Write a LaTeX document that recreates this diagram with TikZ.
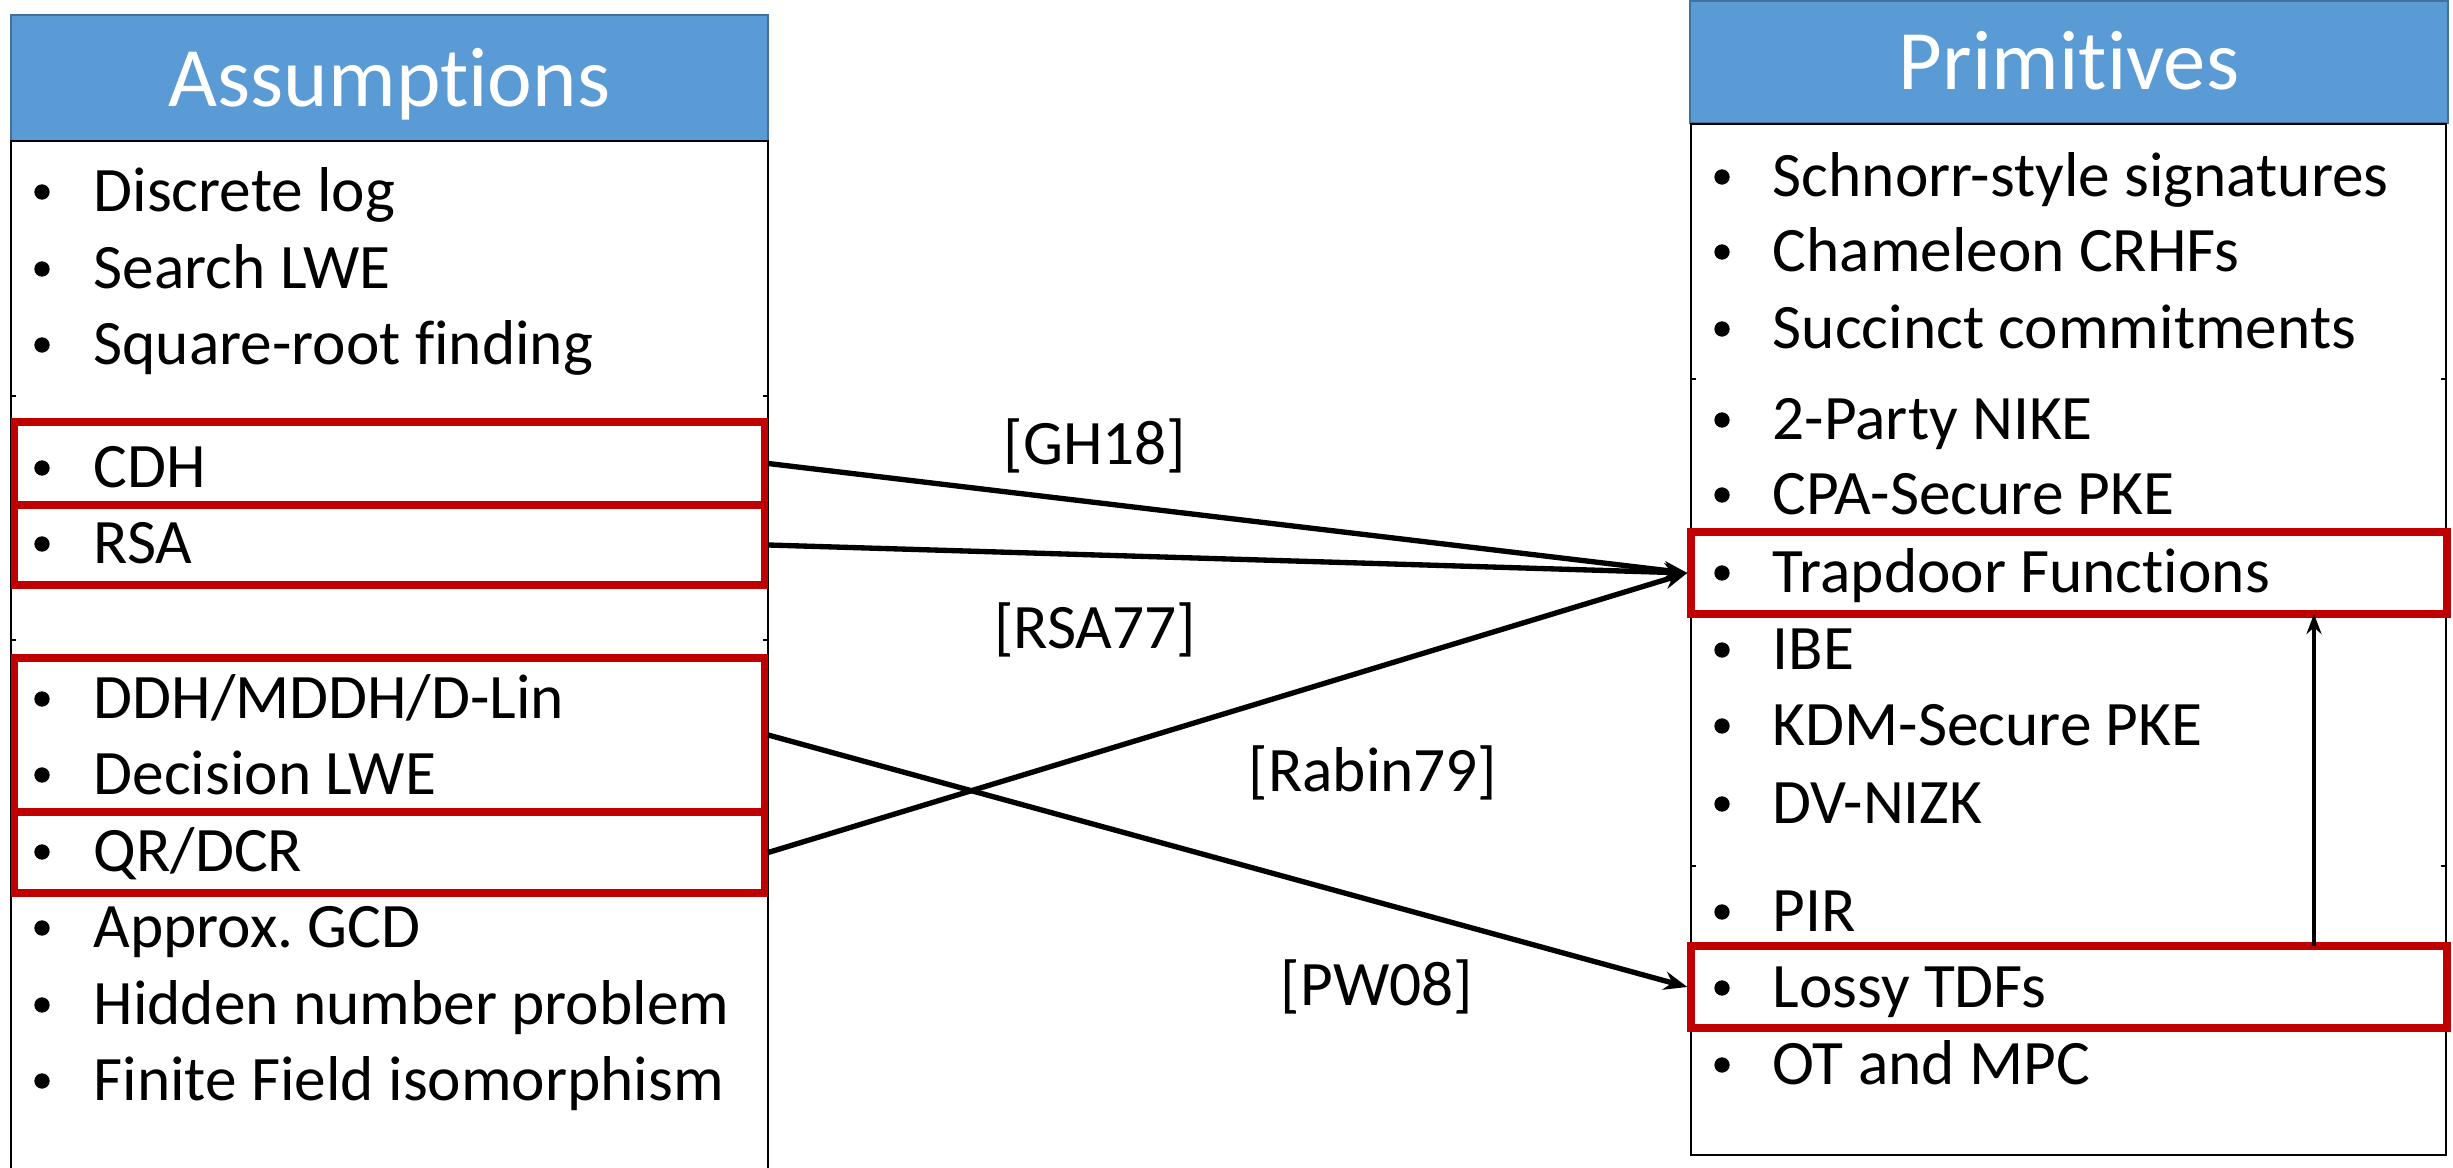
\documentclass[tikz,border=0pt]{standalone}
\usepackage{fontspec}
\setmainfont{Carlito}[Ligatures=NoCommon]
\frenchspacing
\usetikzlibrary{arrows.meta,fit}
\definecolor{hdrblue}{HTML}{5B9BD5}
\definecolor{hdredge}{HTML}{41719C}
\definecolor{boxred}{HTML}{C00000}
\begin{document}
\begin{tikzpicture}[x=0.3pt,y=-0.3pt,
  hdr/.style={draw=hdredge, line width=0.6pt, fill=hdrblue},
  hdrtext/.style={anchor=base, text=white, inner sep=0pt,
    font=\fontsize{25.4pt}{30pt}\selectfont},
  item/.style={anchor=base west, inner sep=0pt,
    font=\fontsize{19pt}{23pt}\selectfont},
  dot/.style={circle, fill=black, inner sep=0pt, minimum size=4.6pt},
  cite/.style={anchor=base, inner sep=0pt,
    font=\fontsize{19pt}{23pt}\selectfont},
  bodyline/.style={line width=0.7pt},
  redbox/.style={draw=boxred, line width=2.2pt, inner sep=0pt},
  link/.style={line width=1.6pt, -{Stealth[length=7pt,width=5.5pt]}},
  uplink/.style={line width=1.3pt, -{Stealth[length=6pt,width=4.5pt]}}]
\useasboundingbox (0,0) rectangle (2453,1168);

% ---------- Assumptions column ----------
\node[hdr, fit={(11,15) (768,141)}, inner sep=0pt] (lhdr) {};
\node[hdrtext] (ltitle) at (389.5,107) {Assumptions};
\draw[bodyline] (11,1175) -- (11,141) -- (768,141) -- (768,1175);
\foreach \y in {396,640}{
  \draw[line width=0.5pt] (11,\y) -- (16,\y) (763,\y) -- (768,\y);
}
\foreach \y/\t [count=\i] in {212/Discrete log, 289/Search LWE,
    365/Square-root finding, 488/CDH, 564/RSA, 719/{DDH/MDDH/D-Lin},
    795/Decision LWE, 872/{QR/DCR}, 948/Approx. GCD,
    1025/Hidden number problem, 1101/Finite Field isomorphism}{
  \node[item] (L\i) at (93,\y) {\t};
  \node[dot] (Lb\i) at (42,\y-20) {};
}

% ---------- Primitives column ----------
\node[hdr, fit={(1690,1) (2448,123)}, inner sep=0pt] (rhdr) {};
\node[hdrtext] (rtitle) at (2069,90) {Primitives};
\draw[bodyline] (1691,124) rectangle (2446,1155);
\foreach \y in {379,866}{
  \draw[line width=0.5pt] (1691,\y) -- (1696,\y) (2441,\y) -- (2446,\y);
}
\foreach \y/\t [count=\i] in {197/Schnorr-style signatures,
    272/Chameleon CRHFs, 349/Succinct commitments, 440/2-Party NIKE,
    515/CPA-Secure PKE, 593/Trapdoor Functions, 670/IBE,
    746/KDM-Secure PKE, 824/DV-NIZK, 932/PIR, 1008/Lossy TDFs,
    1085/OT and MPC}{
  \node[item] (R\i) at (1772,\y) {\t};
  \node[dot] (Rb\i) at (1722,\y-20) {};
}

% ---------- highlighted entries ----------
\node[redbox, fit={(14.5,422) (764.5,505)}] (cdh) {};
\node[redbox, fit={(14.5,505) (764.5,585)}] (rsa) {};
\node[redbox, fit={(14.5,658) (764.5,812)}] (ddh) {};
\node[redbox, fit={(14.5,812) (764.5,893)}] (qr) {};
\node[redbox, fit={(1691,532) (2447,614)}] (tdf) {};
\node[redbox, fit={(1691,946) (2447,1028)}] (ltdf) {};

% ---------- implications ----------
\draw[link] (cdh.east) -- (tdf.west);
\draw[link] (rsa.east) -- (tdf.west);
\draw[link] (qr.east) -- (tdf.west);
\draw[link] (ddh.east) -- (ltdf.west);
\coordinate (upfrom) at (2314,946);
\coordinate (upto) at (2314,614);
\draw[uplink] (upfrom) -- (upto);

\node[cite] (gh) at (1095,465) {[GH18]};
\node[cite] (rsa77) at (1095,649) {[RSA77]};
\node[cite] (rabin) at (1373,792) {[Rabin79]};
\node[cite] (pw) at (1377,1006) {[PW08]};
\end{tikzpicture}
\end{document}
